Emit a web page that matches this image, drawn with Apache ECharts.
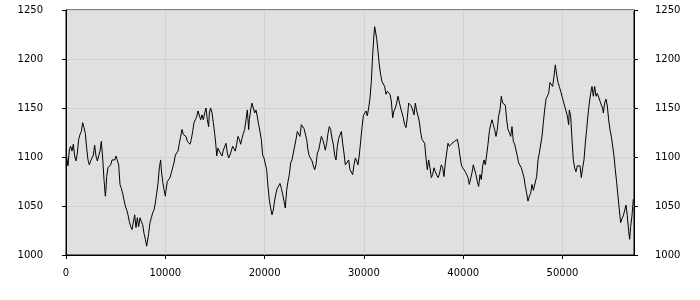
<!DOCTYPE html>
<html>
<head>
<meta charset="utf-8">
<script src="https://cdn.jsdelivr.net/npm/echarts@6/dist/echarts.min.js"></script>
<style>html,body{margin:0;padding:0;background:#fff;}#c{width:700px;height:300px;}</style>
</head>
<body>
<div id="c"></div>
<script>
// x positions and values, in segments
var seg1 = [[67,1100],[201,1091],[336,1107],[470,1111],[604,1106],[739,1113],[873,1101],[1007,1096],[1141,1104],[1276,1118],[1410,1123],[1544,1126],[1679,1135],[1746,1136],[1813,1130],[1947,1124],[2081,1109],[2216,1097],[2350,1092],[2484,1096],[2618,1096],[2753,1102],[2887,1112],[3021,1101],[3156,1096],[3290,1097],[3424,1106],[3558,1116],[3693,1099],[3827,1077],[3961,1060],[4028,1067],[4096,1080],[4230,1089],[4364,1090],[4498,1092],[4633,1097],[4767,1096],[4901,1097],[5036,1101],[5170,1099],[5304,1092],[5438,1072],[5573,1068],[5707,1063],[5841,1056],[5975,1050],[6110,1046],[6244,1041],[6378,1034],[6513,1029],[6647,1026],[6781,1026],[6915,1041],[7050,1028],[7184,1038],[7318,1029],[7453,1038],[7587,1034],[7721,1031],[7855,1022],[7990,1016],[8124,1009],[8191,1011],[8325,1022],[8459,1033],[8594,1038],[8728,1043],[8862,1046],[8996,1053],[9131,1063],[9265,1073],[9399,1089]];
var seg2 = [[9533,1097],[9600,1087],[9734,1075],[9868,1067],[10003,1060],[10070,1066],[10204,1075],[10338,1077],[10472,1079],[10607,1084],[10741,1085],[10875,1094],[11010,1102],[11144,1102],[11278,1106],[11412,1114],[11547,1121],[11681,1128],[11815,1123],[11950,1123],[12084,1121],[12218,1116],[12352,1118],[12487,1113],[12621,1118],[12755,1126],[12890,1135],[13024,1138],[13158,1141],[13292,1147],[13427,1148],[13561,1138],[13695,1143],[13830,1138],[13964,1145],[14098,1150],[14232,1138],[14367,1131],[14434,1145],[14568,1150],[14702,1145],[14837,1135],[14971,1124],[15105,1111],[15172,1101],[15307,1109],[15441,1106],[15575,1104],[15709,1101],[15844,1107],[15978,1106],[16112,1114],[16247,1104],[16381,1099],[16515,1102],[16649,1104],[16784,1111],[16918,1109],[17052,1106],[17187,1113],[17321,1121],[17455,1118],[17589,1113],[17724,1119],[17858,1124],[17992,1128],[18127,1138],[18261,1148],[18395,1128],[18462,1138],[18597,1148],[18731,1155],[18865,1150]];
var seg3 = [[18999,1145],[19133,1148],[19267,1141],[19401,1133],[19536,1126],[19670,1118],[19804,1102],[19939,1099],[20073,1097],[20207,1087],[20341,1070],[20476,1056],[20610,1048],[20744,1041],[20811,1039],[20878,1046],[21013,1056],[21147,1063],[21281,1068],[21416,1066],[21550,1073],[21684,1068],[21818,1062],[21953,1055],[22087,1048],[22221,1066],[22356,1075],[22490,1082],[22624,1094],[22758,1097],[22893,1099],[23027,1111],[23161,1118],[23296,1126],[23430,1128],[23564,1121],[23698,1133],[23833,1131],[23967,1129],[24101,1128],[24235,1118],[24370,1107],[24504,1101],[24638,1099],[24773,1096],[24907,1091],[25041,1087],[25175,1092],[25310,1104],[25444,1107],[25578,1109],[25713,1121],[25847,1118],[25981,1113],[26115,1107],[26250,1114],[26384,1124],[26518,1131],[26653,1128],[26787,1119],[26921,1113],[27055,1102],[27190,1097],[27324,1111],[27458,1119],[27593,1118],[27727,1126],[27861,1114],[27995,1104],[28130,1092]];
var seg4 = [[28330,1092],[28465,1097],[28599,1087],[28733,1085],[28867,1082],[29002,1092],[29136,1099],[29270,1096],[29404,1092],[29539,1102],[29673,1116],[29807,1130],[29942,1142],[30076,1143],[30210,1147],[30344,1142],[30479,1150],[30613,1160],[30747,1177],[30882,1204],[31016,1225],[31083,1233],[31150,1235],[31284,1221],[31419,1208],[31553,1194],[31687,1184],[31822,1177],[31956,1176],[32090,1172],[32224,1164],[32359,1167],[32493,1165],[32627,1164],[32762,1157],[32896,1140],[33030,1147],[33164,1150],[33299,1155],[33433,1162],[33567,1162],[33701,1150],[33836,1145],[33970,1140],[34104,1133],[34239,1130],[34373,1140],[34507,1155],[34641,1157],[34776,1152],[34910,1148],[35044,1143],[35179,1155],[35313,1147],[35447,1142],[35581,1136],[35716,1125],[35850,1118],[35984,1119],[36119,1114],[36253,1099],[36387,1087],[36521,1097],[36656,1089],[36790,1079],[36924,1082],[37059,1089],[37193,1085],[37327,1087],[37461,1079],[37596,1082],[37730,1089]];
var seg5 = [[37796,1092],[37931,1089],[38065,1080],[38199,1094],[38333,1104],[38468,1114],[38602,1111],[38736,1113],[38871,1114],[39005,1116],[39139,1116],[39273,1118],[39408,1118],[39542,1111],[39676,1101],[39810,1092],[39945,1089],[40079,1091],[40213,1085],[40348,1087],[40482,1079],[40616,1072],[40750,1070],[40885,1084],[41019,1092],[41153,1091],[41288,1082],[41422,1075],[41556,1070],[41690,1082],[41825,1077],[41959,1091],[42093,1097],[42228,1092],[42362,1102],[42496,1113],[42630,1126],[42765,1133],[42899,1138],[43033,1133],[43168,1128],[43302,1121],[43436,1128],[43570,1142],[43705,1148],[43839,1162],[43906,1164],[43973,1155],[44107,1157],[44242,1153],[44376,1138],[44510,1128],[44645,1125],[44779,1121],[44913,1131],[45047,1116],[45182,1113],[45316,1111],[45450,1101],[45585,1094],[45719,1092],[45853,1089],[45987,1087],[46122,1079],[46256,1070],[46390,1063],[46525,1055],[46659,1060],[46793,1063],[46927,1072],[47062,1066],[47196,1065]];
var seg6 = [[47262,1067],[47396,1080],[47531,1097],[47665,1104],[47799,1102],[47934,1121],[48068,1135],[48202,1148],[48336,1159],[48471,1162],[48605,1165],[48739,1176],[48874,1177],[49008,1172],[49142,1182],[49276,1194],[49344,1192],[49411,1184],[49545,1176],[49679,1172],[49814,1167],[49948,1162],[50082,1157],[50216,1152],[50351,1147],[50485,1142],[50619,1133],[50686,1148],[50821,1142],[50955,1118],[51089,1097],[51224,1089],[51358,1085],[51492,1091],[51626,1089],[51761,1091],[51895,1079],[52029,1089],[52164,1097],[52298,1114],[52432,1128],[52566,1143],[52701,1155],[52835,1165],[52969,1172],[53103,1162],[53238,1172],[53372,1162],[53506,1165],[53641,1164],[53775,1157],[53909,1153],[54043,1150],[54111,1145],[54245,1155],[54379,1159],[54513,1152],[54648,1138],[54782,1128],[54916,1121],[55051,1111],[55185,1101],[55319,1087],[55453,1074],[55588,1060],[55722,1046],[55856,1033],[55990,1037],[56125,1040],[56259,1041],[56393,1051],[56528,1040],[56662,1024],[56763,1016],[56863,1029],[56997,1040],[57132,1057]];

var xTicks = [0, 10000, 20000, 30000, 40000, 50000];
var yTicks = [1000, 1050, 1100, 1150, 1200, 1250];
var xMax = 57200;

var data = seg1.concat(seg2, seg3, seg4, seg5, seg6);
var plain = function (v) { return String(v); };
var font = {fontFamily: 'DejaVu Sans', fontSize: 10, color: '#000', formatter: plain};

var chart = echarts.init(document.getElementById('c'), null, {renderer: 'canvas'});
chart.setOption({
  animation: false,
  grid: {left: 66, right: 66, top: 10, bottom: 45, show: true, backgroundColor: '#e0e0e0', borderColor: '#000', borderWidth: 1},
  xAxis: {
    type: 'value', min: 0, max: xMax, interval: 10000,
    axisLine: {show: true, onZero: false, lineStyle: {color: '#000'}},
    axisTick: {show: true, length: 4, lineStyle: {color: '#000'}, customValues: xTicks},
    axisLabel: Object.assign({margin: 13, customValues: xTicks}, font),
    splitLine: {show: true, lineStyle: {color: '#d2d2d2'}}
  },
  yAxis: [{
    type: 'value', min: yTicks[0], max: yTicks[yTicks.length - 1], interval: 50, position: 'left',
    axisLine: {show: true, lineStyle: {color: '#000'}},
    axisTick: {show: true, length: 4, lineStyle: {color: '#000'}},
    axisLabel: Object.assign({margin: 23}, font),
    splitLine: {show: true, lineStyle: {color: '#d2d2d2'}}
  }, {
    type: 'value', min: yTicks[0], max: yTicks[yTicks.length - 1], interval: 50, position: 'right',
    axisLine: {show: true, lineStyle: {color: '#000'}},
    axisTick: {show: true, length: 4, lineStyle: {color: '#000'}},
    axisLabel: Object.assign({margin: 21}, font),
    splitLine: {show: false}
  }],
  series: [{
    type: 'line', data: data, showSymbol: false, symbol: 'none',
    lineStyle: {color: '#000', width: 1}, yAxisIndex: 0
  }]
});
</script>
</body>
</html>
